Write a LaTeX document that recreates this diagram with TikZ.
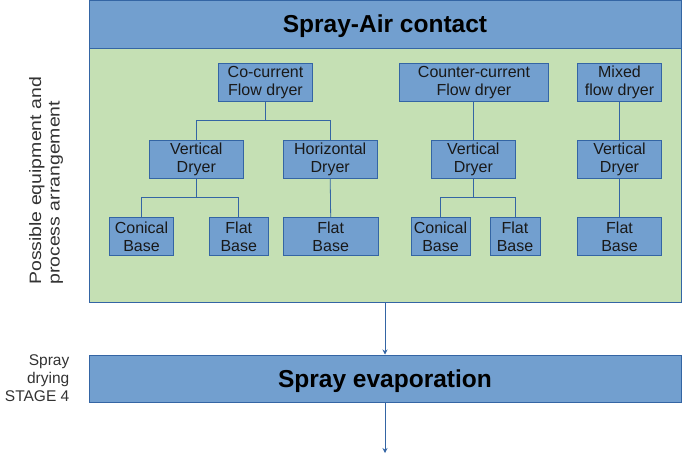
\documentclass[tikz,border=0pt]{standalone}
\usepackage{fontspec}
\setmainfont{Liberation Sans}
\usepackage{graphicx}
\usetikzlibrary{arrows.meta}
\definecolor{boxblue}{HTML}{729FCF}
\definecolor{lineblue}{HTML}{3465A4}
\definecolor{areagreen}{HTML}{C5E0B4}
\definecolor{txtgray}{HTML}{333333}
\tikzset{
  dryer/.style={draw=lineblue, fill=boxblue, line width=0.9pt, inner sep=0pt,
    minimum height=38pt, align=center, text=black!90,
    font=\fontsize{16}{18}\selectfont},
  band/.style={draw=lineblue, fill=boxblue, line width=1pt, inner sep=0pt,
    minimum width=592pt, text height=17.5pt, text depth=0pt,
    font=\fontsize{24.5}{28}\selectfont\bfseries},
  link/.style={draw=lineblue, line width=0.8pt},
  flow/.style={link, -{Stealth[length=5pt,width=5pt]}}
}
\begin{document}
\begin{tikzpicture}[x=1pt,y=-1pt]
\useasboundingbox (0,0) rectangle (682,456);
\node[band, minimum height=48pt] (contact) at (385,24) {Spray-Air contact};
\node[draw=lineblue, fill=areagreen, line width=1pt, minimum width=592pt,
  minimum height=254pt] (arr) at (385,175) {};
\node[band, minimum height=47pt] (evap) at (385,378.5) {Spray evaporation};
\coordinate (out) at (385,453);
% dryer types
\node[dryer, minimum width=94.5pt] (cc) at (265.5,82.5) {Co-current\\Flow dryer};
\node[dryer, minimum width=149pt] (ctr) at (474,82.5) {Counter-current\\Flow dryer};
\node[dryer, minimum width=84.5pt] (mx) at (619.5,82.5) {Mixed\\flow dryer};
\node[dryer, minimum width=94pt] (v1) at (196.3,159) {Vertical\\Dryer};
\node[dryer, minimum width=94pt] (hz) at (330.2,159) {Horizontal\\Dryer};
\node[dryer, minimum width=84pt] (v2) at (473.3,159) {Vertical\\Dryer};
\node[dryer, minimum width=84.5pt] (v3) at (619.5,159) {Vertical\\Dryer};
\node[dryer, minimum width=64.7pt] (b1) at (141.5,236.5) {Conical\\Base};
\node[dryer, minimum width=58.5pt] (b2) at (238.8,236.5) {Flat\\Base};
\node[dryer, minimum width=94.5pt] (b3) at (330.7,236.5) {Flat\\Base};
\node[dryer, minimum width=59pt] (b4) at (440.5,236.5) {Conical\\Base};
\node[dryer, minimum width=50pt] (b5) at (515,236.5) {Flat\\Base};
\node[dryer, minimum width=84.5pt] (b6) at (619.5,236.5) {Flat\\Base};
\draw[link] (cc.south) -- ++(0,18.5) -| (v1.north);
\draw[link] (cc.south) -- ++(0,18.5) -| (hz.north);
\draw[link] (v1.south) -- ++(0,19) -| (b1.north);
\draw[link] (v1.south) -- ++(0,19) -| (b2.north);
\draw[link] (hz.south) -- (b3.north);
\draw[link] (ctr.south) -| (v2.north);
\draw[link] (v2.south) -- ++(0,19) -| (b4.north);
\draw[link] (v2.south) -- ++(0,19) -| (b5.north);
\draw[link] (mx.south) -- (v3.north);
\draw[link] (v3.south) -- (b6.north);
% stage flow
\draw[flow] (arr.south) -- (evap.north);
\draw[flow] (evap.south) -- (out);
% side labels
\node[rotate=90, anchor=west, align=left, inner sep=0pt, text=txtgray,
  font=\fontsize{16.5}{18.5}\selectfont] (side) at (46,285)
  {\scalebox{1.18}[1]{Possible equipment and}\\\scalebox{1.18}[1]{process arrangement}};
\node[anchor=east, align=right, inner sep=0pt, text=txtgray,
  font=\fontsize{15.5}{18}\selectfont] (stage) at (69.5,378) {Spray\\drying\\STAGE 4};
\end{tikzpicture}
\end{document}
